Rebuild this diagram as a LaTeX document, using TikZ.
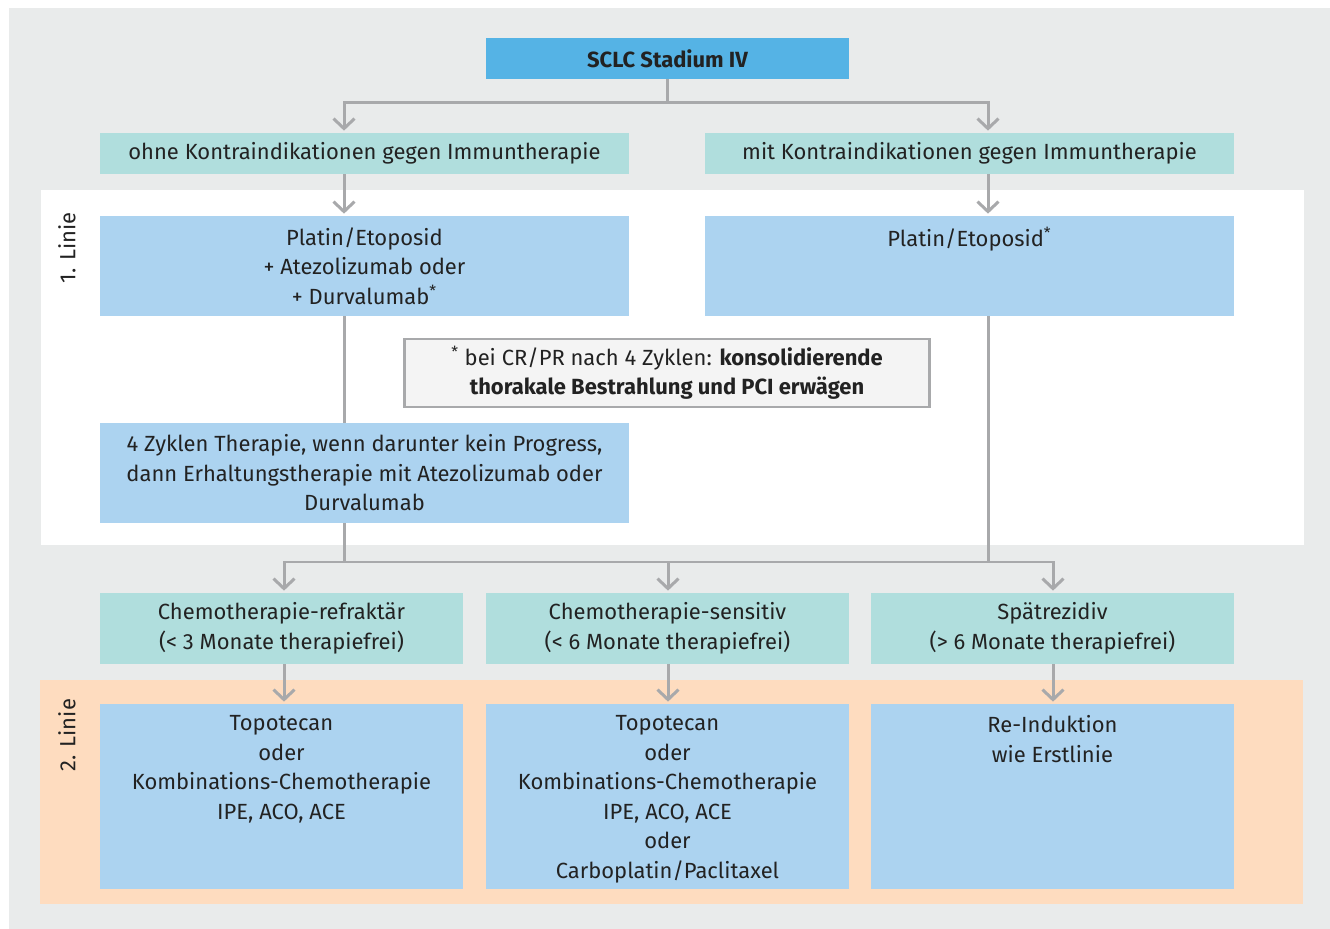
\documentclass[tikz,border=0pt]{standalone}
\usepackage{fontspec}
\setmainfont{Fira Sans}
\usepackage{xcolor}
\usetikzlibrary{arrows.meta}

\definecolor{bgGrey}{HTML}{E9EBEB}
\definecolor{headBlue}{HTML}{55B3E5}
\definecolor{boxGreen}{HTML}{B0DEDD}
\definecolor{boxBlue}{HTML}{ACD3F0}
\definecolor{bandPeach}{HTML}{FEDCBF}
\definecolor{lineGrey}{HTML}{A8A9AB}
\definecolor{noteFill}{HTML}{F4F4F4}
\definecolor{txt}{HTML}{222222}

\tikzset{
  box/.style={inner sep=0pt, align=center, text=txt, font=\fontsize{12.5}{16.8}\selectfont},
  greenbox/.style={box, fill=boxGreen},
  bluebox/.style={box, fill=boxBlue},
  toptext/.style={box, anchor=north, yshift=-0.23cm},
  conn/.style={draw=lineGrey, line width=0.06cm},
  arr/.style={conn, -{Straight Barb[length=0.2cm,width=0.42cm,line width=0.06cm]}, shorten >=0.04cm},
  linie/.style={box, rotate=90}
}

\begin{document}
\begin{tikzpicture}[x=0.02cm,y=-0.02cm]
	\useasboundingbox (0,0) rectangle (1330,929);
	\fill[white] (0,0) rectangle (1330,929);
	\fill[bgGrey] (9,8) rectangle (1330,929);
	\fill[white] (41,190) rectangle (1304,545);
	\fill[bandPeach] (40,680) rectangle (1303,904);
	
	\node[linie] (l1) at (67,248) {1. Linie};
	\node[linie] (l2) at (67,735) {2. Linie};
	
	\node[box, fill=headBlue, minimum width=7.26cm, minimum height=0.82cm, font=\fontsize{12.5}{16.8}\selectfont\bfseries] (sclc) at (667.5,58.5) {SCLC Stadium IV};
	
	\node[greenbox, minimum width=10.58cm, minimum height=0.82cm] (ohne) at (364.5,153.5) {ohne Kontraindikationen gegen Immuntherapie};
	\node[greenbox, minimum width=10.58cm, minimum height=0.82cm] (mit) at (969.5,153.5) {mit Kontraindikationen gegen Immuntherapie};
	
	\node[bluebox, minimum width=10.58cm, minimum height=2cm] (pe1) at (364.5,266) {Platin/Etoposid\\+ Atezolizumab oder\\+ Durvalumab\textsuperscript{*}};
	\node[bluebox, minimum width=10.58cm, minimum height=2cm, label={[toptext]north:Platin/Etoposid\textsuperscript{*}}] (pe2) at (969.5,266) {};
	
	\node[box, fill=noteFill, draw=lineGrey, line width=0.05cm, minimum width=10.5cm, minimum height=1.36cm] (note) at (667,373) {\textsuperscript{*} bei CR/PR nach 4 Zyklen: \textbf{konsolidierende}\\\textbf{thorakale Bestrahlung und PCI erwägen}};
	
	\node[bluebox, minimum width=10.58cm, minimum height=2cm] (zyk) at (364.5,473) {4 Zyklen Therapie, wenn darunter kein Progress,\\dann Erhaltungstherapie mit Atezolizumab oder\\Durvalumab};
	
	\node[greenbox, minimum width=7.26cm, minimum height=1.42cm] (refr) at (281.5,628.5) {Chemotherapie-refraktär\\(< 3 Monate therapiefrei)};
	\node[greenbox, minimum width=7.26cm, minimum height=1.42cm] (sens) at (667.5,628.5) {Chemotherapie-sensitiv\\(< 6 Monate therapiefrei)};
	\node[greenbox, minimum width=7.26cm, minimum height=1.42cm] (spaet) at (1052.5,628.5) {Spätrezidiv\\(> 6 Monate therapiefrei)};
	
	\node[bluebox, minimum width=7.26cm, minimum height=3.7cm, label={[toptext]north:{Topotecan\\oder\\Kombinations-Chemotherapie\\IPE, ACO, ACE}}] (topo1) at (281.5,796.5) {};
	\node[bluebox, minimum width=7.26cm, minimum height=3.7cm, label={[toptext]north:{Topotecan\\oder\\Kombinations-Chemotherapie\\IPE, ACO, ACE\\oder\\Carboplatin/Paclitaxel}}] (topo2) at (667.5,796.5) {};
	\node[bluebox, minimum width=7.26cm, minimum height=3.7cm, label={[toptext]north:{Re-Induktion\\wie Erstlinie}}] (reind) at (1052.5,796.5) {};
	
	\coordinate (splitA) at (667.5,103);
	\coordinate (colL) at (344,103);
	\coordinate (colR) at (988,103);
	\coordinate (splitB) at (344,562);
	\coordinate (joinR) at (988,562);
	\coordinate (c1) at (284,562);
	\coordinate (c2) at (668,562);
	\coordinate (c3) at (1053,562);
	
	\draw[conn] (sclc.south) -- (splitA);
	\draw[arr] (splitA) -- (colL) -- (colL |- ohne.north);
	\draw[arr] (splitA) -- (colR) -- (colR |- mit.north);
	\draw[arr] (colL |- ohne.south) -- (colL |- pe1.north);
	\draw[arr] (colR |- mit.south) -- (colR |- pe2.north);
	\draw[conn] (colL |- pe1.south) -- (colL |- zyk.north);
	\draw[conn] (colL |- zyk.south) -- (splitB);
	\draw[conn] (colR |- pe2.south) -- (joinR);
	\draw[arr] (splitB) -- (c1) -- (c1 |- refr.north);
	\draw[arr] (joinR) -- (c3) -- (c3 |- spaet.north);
	\draw[arr] (c2) -- (c2 |- sens.north);
	\draw[conn] (c1) -- (c3);
	\draw[arr] (c1 |- refr.south) -- (c1 |- topo1.north);
	\draw[arr] (c2 |- sens.south) -- (c2 |- topo2.north);
	\draw[arr] (c3 |- spaet.south) -- (c3 |- reind.north);
\end{tikzpicture}
\end{document}
